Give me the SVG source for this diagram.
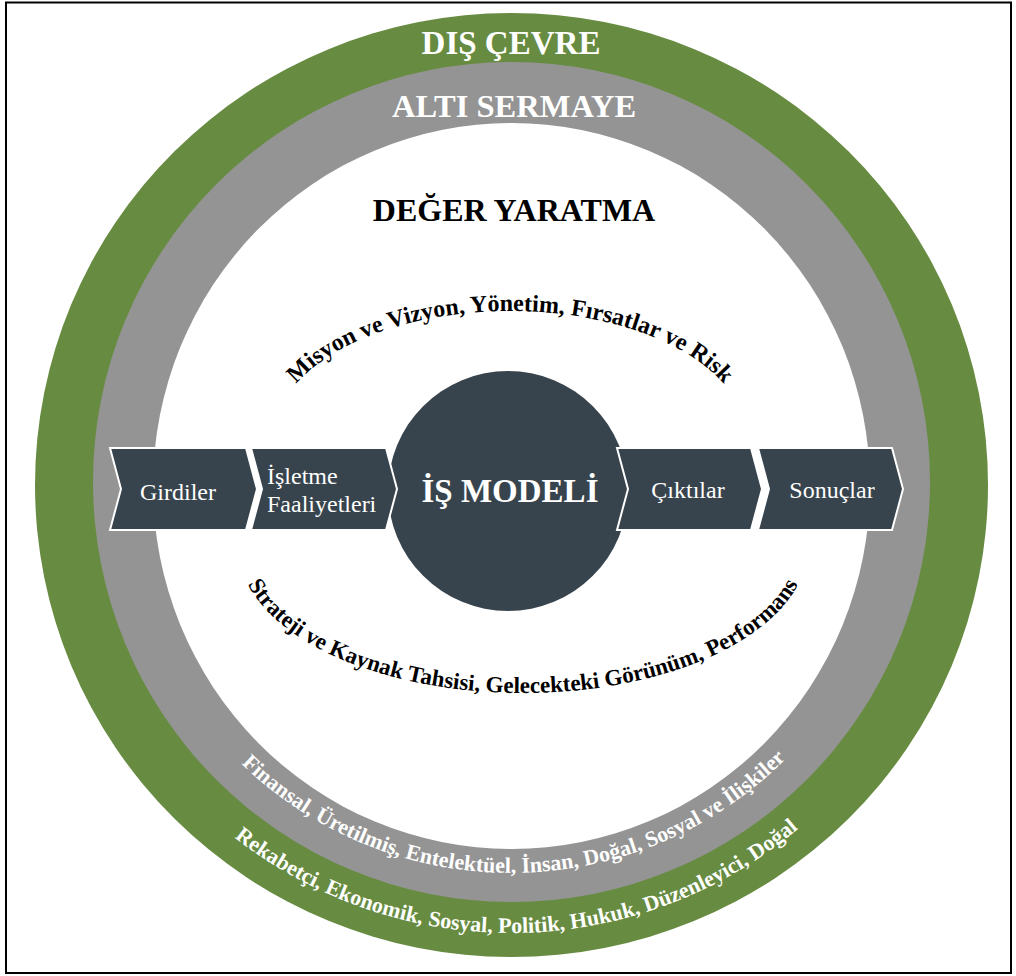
<svg xmlns="http://www.w3.org/2000/svg" width="1016" height="976" viewBox="0 0 1016 976">
  <style>
    text { font-family: "Liberation Serif", "DejaVu Serif", serif; }
    .bold { font-weight: bold; }
    .white { fill: #ffffff; }
    .black { fill: #000000; }
    .chev { fill: #38444d; stroke: #ffffff; stroke-width: 2; stroke-linejoin: miter; }
    .chevtxt { font-size: 24px; fill: #ffffff; }
  </style>
  <defs>
    <path id="arcTop" d="M 275,436 A 235 125 0 0 1 745,436"/>
    <path id="arcBottom" d="M 238,546 A 285 147 0 0 0 808,546"/>
    <path id="arcGray" d="M 123,485 A 388 388 0 0 0 899,485"/>
    <path id="arcGreen" d="M 63,485 A 448 448 0 0 0 959,485"/>
  </defs>

  <rect x="6" y="2.5" width="1005" height="970.5" fill="#ffffff" stroke="#000000" stroke-width="2"/>

  <g id="dis-cevre">
    <ellipse cx="511.5" cy="485" rx="476.5" ry="472" fill="#678c41"/>
    <text class="bold white" x="511" y="54" font-size="33" text-anchor="middle">DIŞ ÇEVRE</text>
    <text class="bold white" font-size="22"><textPath href="#arcGreen" startOffset="50.5%" text-anchor="middle">Rekabetçi, Ekonomik, Sosyal, Politik, Hukuk, Düzenleyici, Doğal</textPath></text>
  </g>

  <g id="alti-sermaye">
    <ellipse cx="511.5" cy="482" rx="418.5" ry="420" fill="#949494"/>
    <text class="bold white" x="514" y="117" font-size="32.5" text-anchor="middle">ALTI SERMAYE</text>
    <text class="bold white" font-size="22"><textPath href="#arcGray" startOffset="50.3%" text-anchor="middle">Finansal, Üretilmiş, Entelektüel, İnsan, Doğal, Sosyal ve İlişkiler</textPath></text>
  </g>

  <g id="deger-yaratma">
    <ellipse cx="511.5" cy="486" rx="358.5" ry="363" fill="#ffffff"/>
    <text class="bold black" x="514" y="221" font-size="32" text-anchor="middle">DEĞER YARATMA</text>
    <text class="bold black" font-size="24"><textPath href="#arcTop" startOffset="50%" text-anchor="middle">Misyon ve Vizyon, Yönetim, Fırsatlar ve Risk</textPath></text>
    <text class="bold black" font-size="23"><textPath href="#arcBottom" startOffset="50%" text-anchor="middle">Strateji ve Kaynak Tahsisi, Gelecekteki Görünüm, Performans</textPath></text>
  </g>

  <g id="is-modeli">
    <circle cx="508" cy="491" r="120" fill="#38444d"/>
  </g>

  <g id="connectors"></g>

  <g id="girdiler">
    <polygon class="chev" points="110,448 246,448 257,489 246,530 110,530 121,489"/>
    <text class="chevtxt" x="178" y="500" text-anchor="middle">Girdiler</text>
  </g>
  <g id="isletme-faaliyetleri">
    <polygon class="chev" points="251,448 386,448 397,489 386,530 251,530 262,489"/>
    <text class="chevtxt" x="267" y="484">İşletme</text>
    <text class="chevtxt" x="267" y="512">Faaliyetleri</text>
  </g>
  <g id="is-modeli-label">
    <text class="bold white" x="510" y="502" font-size="33" text-anchor="middle">İŞ MODELİ</text>
  </g>
  <g id="ciktilar">
    <polygon class="chev" points="617,448 751,448 762,489 751,530 617,530 628,489"/>
    <text class="chevtxt" x="688" y="498" text-anchor="middle">Çıktılar</text>
  </g>
  <g id="sonuclar">
    <polygon class="chev" points="758,448 892,448 903,489 892,530 758,530 769,489"/>
    <text class="chevtxt" x="832" y="498" text-anchor="middle">Sonuçlar</text>
  </g>
</svg>
